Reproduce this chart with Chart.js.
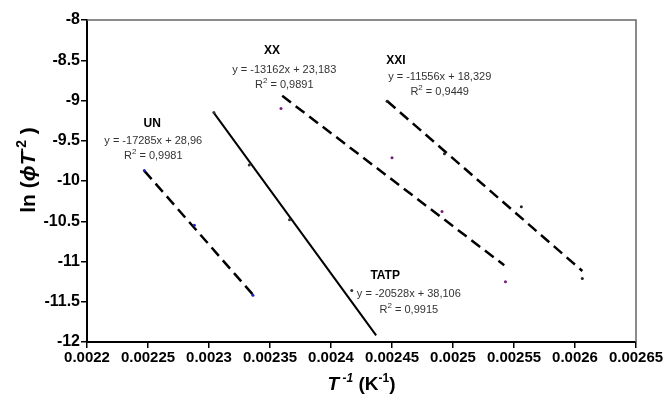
<!DOCTYPE html>
<html>
<head>
<meta charset="utf-8">
<script src="https://cdn.jsdelivr.net/npm/chart.js@4.4.1/dist/chart.umd.min.js"></script>
<style>
  body { margin: 0; background: #fff; }
  #chart { display: block; }
</style>
</head>
<body>
<canvas id="chart" width="666" height="397"></canvas>
<script>
const unX = [0.002247, 0.002288, 0.002336]
const unY = [-9.87, -10.55, -11.42]
const tatpX = [0.002304, 0.002333, 0.002366, 0.002417]
const tatpY = [-9.15, -9.8, -10.48, -11.36]
const xxX = [0.002359, 0.00245, 0.002491, 0.002543]
const xxY = [-9.1, -9.71, -10.38, -11.25]
const xxiX = [0.002446, 0.002493, 0.002556, 0.002606]
const xxiY = [-9.01, -9.66, -10.32, -11.21]

// trend line end points
const unFitX = [0.002247, 0.002336]
const unFitY = [-9.874, -11.412]
const tatpFitX = [0.002304, 0.002437]
const tatpFitY = [-9.153, -11.918]
const midFitX = [0.00236, 0.002542]
const midFitY = [-8.942, -11.047]
const rightFitX = [0.002446, 0.002606]
const rightFitY = [-9.007, -11.118]

// trend line labels
const fitNames = ["UN", "XX", "XXI", "TATP"]
const fitEquations = ["y = -17285x + 28,96", "y = -13162x + 23,183", "y = -11556x + 18,329", "y = -20528x + 38,106"]
const fitR2 = ["0,9981", "0,9891", "0,9449", "0,9915"]

// axis ticks
const xMin = 0.0022
const xMax = 0.00265
const xStep = 0.00005
const yMin = -12
const yMax = -8
const yStep = 0.5

// where the labels sit, in data units
const nameAt = [[0.0022535, -9.294], [0.0023516, -8.382], [0.0024532, -8.506], [0.0024444, -11.172]]
const equationAt = [[0.0022543, -9.505], [0.0023617, -8.622], [0.0024891, -8.705], [0.0024638, -11.399]]
const r2At = [[0.0022543, -9.692], [0.0023617, -8.808], [0.0024891, -8.896], [0.0024638, -11.598]]

const FONT = "'Liberation Sans', Arial, sans-serif"

const toPoints = (xs, ys) => xs.map((x, i) => ({ x: x, y: ys[i] }))

function pointSet(label, xs, ys, color) {
  return {
    label: label,
    data: toPoints(xs, ys),
    showLine: false,
    pointRadius: 1.5,
    pointBorderWidth: 0,
    pointBackgroundColor: color,
    order: 0
  }
}

function fitSet(label, xs, ys, dashed, width) {
  return {
    label: label,
    data: toPoints(xs, ys),
    showLine: true,
    borderColor: "#000",
    borderWidth: width,
    borderDash: dashed ? [11, 6] : [],
    pointRadius: 0,
    fill: false,
    order: 1
  }
}

// draws text pieces one after another, pieces may be raised
function drawRuns(ctx, runs, cx, cy) {
  let total = 0
  runs.forEach((r) => {
    ctx.font = r.font
    r.w = ctx.measureText(r.text).width
    total += r.w
  })
  let x = cx - total / 2
  runs.forEach((r) => {
    ctx.font = r.font
    ctx.fillText(r.text, x, cy + (r.dy || 0))
    x += r.w
  })
}

const framePlugin = {
  id: "frame",
  beforeDatasetsDraw(chart) {
    const { ctx, chartArea } = chart
    ctx.save()
    ctx.strokeStyle = "#666"
    ctx.lineWidth = 1.5
    ctx.beginPath()
    ctx.moveTo(chartArea.left, chartArea.top)
    ctx.lineTo(chartArea.right, chartArea.top)
    ctx.lineTo(chartArea.right, chartArea.bottom)
    ctx.stroke()
    ctx.restore()
  }
}

const labelPlugin = {
  id: "fitLabels",
  afterDatasetsDraw(chart) {
    const { ctx, scales } = chart
    const px = (p) => [scales.x.getPixelForValue(p[0]), scales.y.getPixelForValue(p[1])]

    ctx.save()
    ctx.textBaseline = "middle"
    ctx.textAlign = "left"

    fitNames.forEach((name, i) => {
      const [nx, ny] = px(nameAt[i])
      ctx.fillStyle = "#000"
      drawRuns(ctx, [{ text: name, font: `bold 12px ${FONT}` }], nx, ny)

      const [ex, ey] = px(equationAt[i])
      ctx.fillStyle = "#333"
      drawRuns(ctx, [{ text: fitEquations[i], font: `11px ${FONT}` }], ex, ey)

      const [rx, ry] = px(r2At[i])
      drawRuns(ctx, [
        { text: "R", font: `11px ${FONT}` },
        { text: "2", font: `8px ${FONT}`, dy: -4 },
        { text: " = " + fitR2[i], font: `11px ${FONT}` }
      ], rx, ry)
    })

    // axis titles
    const area = chart.chartArea
    ctx.fillStyle = "#000"
    drawRuns(ctx, [
      { text: "T", font: `italic bold 19px ${FONT}` },
      { text: " -1", font: `italic bold 12px ${FONT}`, dy: -6 },
      { text: " (K", font: `bold 19px ${FONT}` },
      { text: "-1", font: `bold 12px ${FONT}`, dy: -6 },
      { text: ")", font: `bold 19px ${FONT}` }
    ], (area.left + area.right) / 2, 385)

    ctx.translate(29, 170)
    ctx.rotate(-Math.PI / 2)
    drawRuns(ctx, [
      { text: "ln (", font: `bold 21px ${FONT}` },
      { text: "\u03d5", font: `italic bold 21px ${FONT}` },
      { text: "T", font: `italic bold 21px ${FONT}` },
      { text: "-2", font: `bold 14px ${FONT}`, dy: -7 },
      { text: " )", font: `bold 21px ${FONT}` }
    ], 0, 0)
    ctx.restore()
  }
}

new Chart(document.getElementById("chart"), {
  type: "scatter",
  data: {
    datasets: [
      fitSet("UN fit", unFitX, unFitY, true, 2.5),
      fitSet("TATP fit", tatpFitX, tatpFitY, false, 2),
      fitSet("XX fit", midFitX, midFitY, true, 2.5),
      fitSet("XXI fit", rightFitX, rightFitY, true, 2.5),
      pointSet("UN", unX, unY, "#2020c0"),
      pointSet("TATP", tatpX, tatpY, "#333333"),
      pointSet("XX", xxX, xxY, "#7a1a7a"),
      pointSet("XXI", xxiX, xxiY, "#222222")
    ]
  },
  options: {
    responsive: false,
    animation: false,
    layout: { padding: { left: 0, right: 30, top: 20, bottom: 0 } },
    plugins: {
      legend: { display: false },
      tooltip: { enabled: false }
    },
    scales: {
      x: {
        type: "linear",
        min: xMin,
        max: xMax,
        afterFit: (scale) => { scale.height = 55 },
        border: { color: "#000", width: 2 },
        grid: { drawOnChartArea: false, drawTicks: true, tickLength: 6, color: "#000", lineWidth: 1.5 },
        ticks: {
          stepSize: xStep,
          autoSkip: false,
          maxRotation: 0,
          padding: 1,
          color: "#000",
          font: { family: FONT, size: 15, weight: "bold" },
          callback: (v) => String(Number(v.toFixed(5)))
        }
      },
      y: {
        min: yMin,
        max: yMax,
        afterFit: (scale) => { scale.width = 87 },
        border: { color: "#000", width: 2 },
        grid: { drawOnChartArea: false, drawTicks: true, tickLength: 6, color: "#000", lineWidth: 1.5 },
        ticks: {
          stepSize: yStep,
          padding: 1,
          color: "#000",
          font: { family: FONT, size: 16, weight: "bold" },
          callback: (v) => String(Number(v.toFixed(1)))
        }
      }
    }
  },
  plugins: [framePlugin, labelPlugin]
})
</script>
</body>
</html>
